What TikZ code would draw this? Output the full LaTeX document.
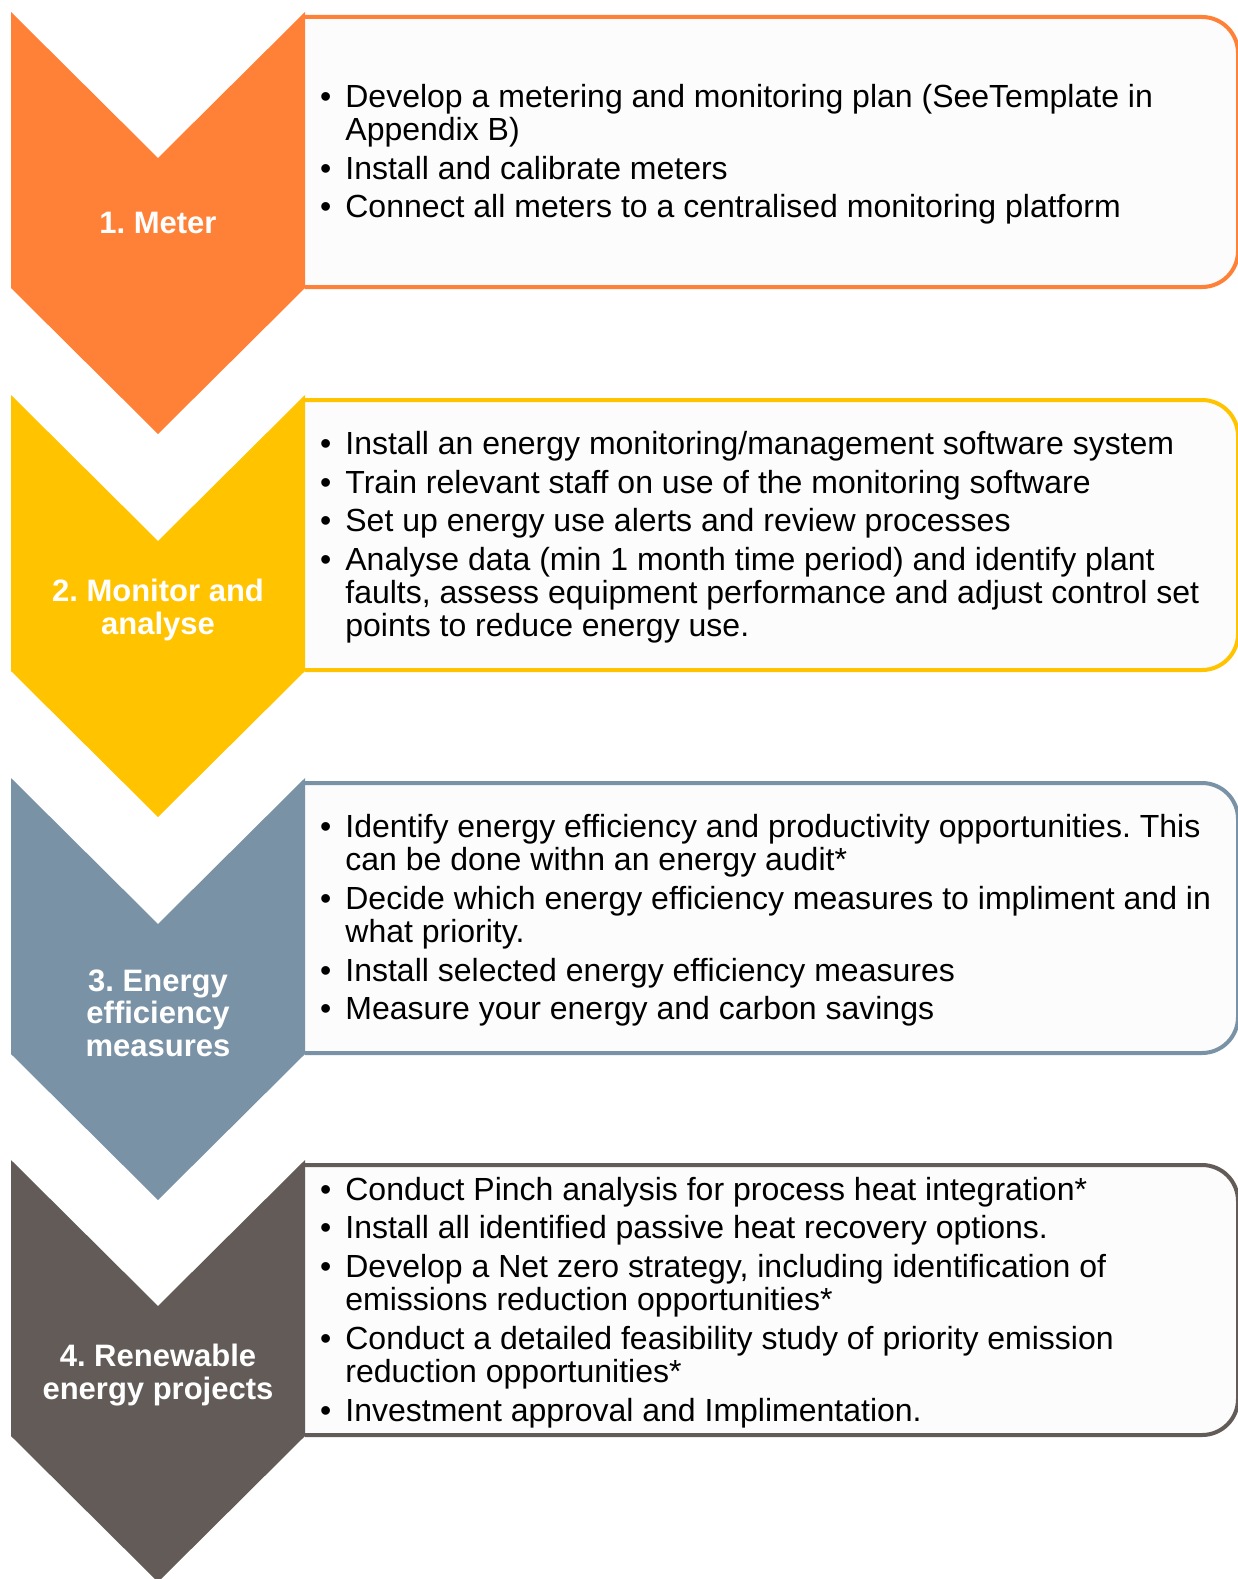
\documentclass[tikz,border=0pt]{standalone}
\usepackage{fontspec}
\setmainfont{Liberation Sans}
\frenchspacing
\definecolor{meterorange}{HTML}{FE8137}
\definecolor{monyellow}{HTML}{FFC300}
\definecolor{effblue}{HTML}{7A92A6}
\definecolor{renewgray}{HTML}{625B58}
\definecolor{boxfill}{HTML}{FCFCFC}

\tikzset{
  stagebox/.style={line width=4pt, fill=boxfill, rounded corners=36pt},
  stagelabel/.style={text=white, font=\bfseries\fontsize{31}{32.5}\selectfont, align=center, inner sep=0pt},
  bodytext/.style={text=black, anchor=west, inner sep=0pt, font=\fontsize{32}{33.3}\selectfont}
}

% one step: #1 name, #2 top y, #3 colour, #4 label y, #5 label, #6 bullet list
\newcommand{\stepitem}[6]{%
  \draw[stagebox, draw=#3] (305,#2+5) -- (1238,#2+5) -- (1238,#2+275) -- (305,#2+275);
  \fill[#3] (11,#2) -- (158,#2+146) -- (305,#2) -- (305,#2+276)
            -- (158,#2+422) -- (11,#2+276) -- cycle;
  \node[stagelabel] (#1label) at (158,#4) {#5};
  \node[bodytext] (#1text) at (320,#2+144) {%
    \begin{tabular}{@{}l@{\hspace{14pt}}l@{}}#6\end{tabular}};
}

\begin{document}
\begin{tikzpicture}[x=1pt,y=-1pt]
\useasboundingbox (0,0) rectangle (1237,1579);

\stepitem{meter}{12}{meterorange}{223}{1. Meter}{%
  • & Develop a metering and monitoring plan (SeeTemplate in\\
    & Appendix B)\\[5.3pt]
  • & Install and calibrate meters\\[5.3pt]
  • & Connect all meters to a centralised monitoring platform}

\stepitem{monitor}{395}{monyellow}{610}{2. Monitor and\\analyse}{%
  • & Install an energy monitoring/management software system\\[5.3pt]
  • & Train relevant staff on use of the monitoring software\\[5.3pt]
  • & Set up energy use alerts and review processes\\[5.3pt]
  • & Analyse data (min 1 month time period) and identify plant\\
    & faults, assess equipment performance and adjust control set\\
    & points to reduce energy use.}

\stepitem{efficiency}{778}{effblue}{1013}{3. Energy\\efficiency\\measures}{%
  • & Identify energy efficiency and productivity opportunities. This\\
    & can be done withn an energy audit*\\[5.3pt]
  • & Decide which energy efficiency measures to impliment and in\\
    & what priority.\\[5.3pt]
  • & Install selected energy efficiency measures\\[5.3pt]
  • & Measure your energy and carbon savings}

\stepitem{renewable}{1160}{renewgray}{1375}{4. Renewable\\energy projects}{%
  • & Conduct Pinch analysis for process heat integration*\\[5.3pt]
  • & Install all identified passive heat recovery options.\\[5.3pt]
  • & Develop a Net zero strategy, including identification of\\
    & emissions reduction opportunities*\\[5.3pt]
  • & Conduct a detailed feasibility study of priority emission\\
    & reduction opportunities*\\[5.3pt]
  • & Investment approval and Implimentation.}

\end{tikzpicture}
\end{document}
